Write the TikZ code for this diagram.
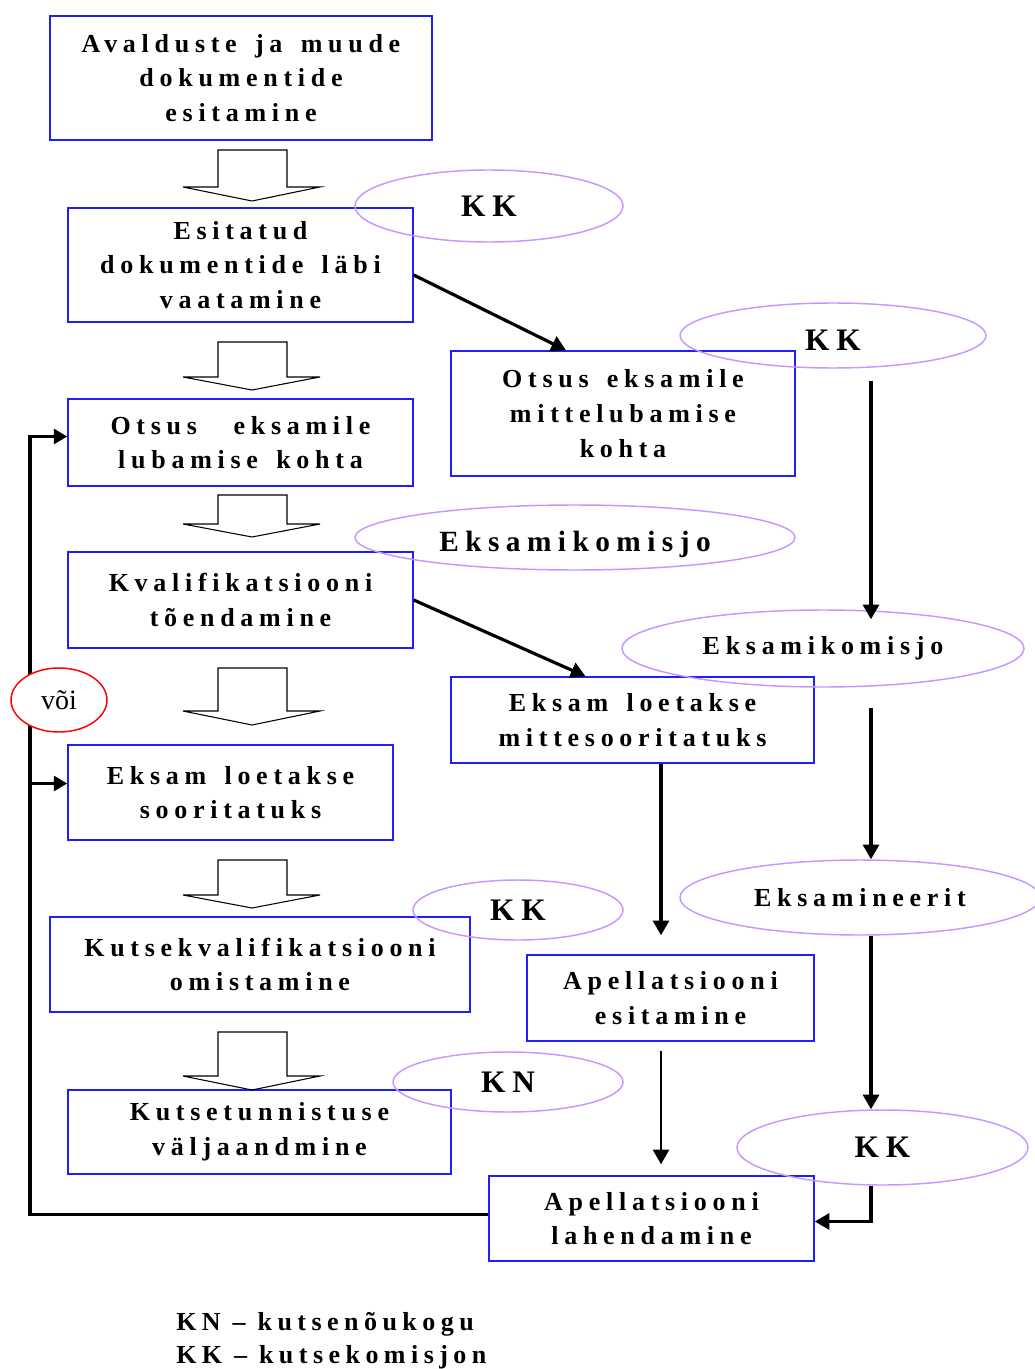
\documentclass[tikz,border=0pt]{standalone}
\usepackage{fontspec}
\setmainfont{Liberation Serif}
\newfontfamily\spaced[LetterSpace=22,WordSpace=1.5]{Liberation Serif}
\newfontfamily\legendfont[LetterSpace=21]{Liberation Serif}
\usetikzlibrary{shapes.geometric,arrows.meta,calc}
\definecolor{boxblue}{RGB}{30,30,255}
\definecolor{ovalviolet}{RGB}{200,150,255}
\begin{document}
\begin{tikzpicture}[x=0.75pt, y=-0.75pt,
    sz/.style 2 args={minimum width=#1*0.75pt, minimum height=#2*0.75pt},
    box/.style={draw=boxblue, line width=1.1pt, align=center, inner sep=0pt,
        font=\spaced\bfseries\fontsize{19.5}{26}\selectfont},
    oval/.style={draw=ovalviolet, line width=1.1pt, ellipse, inner sep=0pt,
        font=\spaced\bfseries\fontsize{19.5}{26}\selectfont},
    big/.style={font=\spaced\bfseries\fontsize{23.5}{28}\selectfont},
    legend/.style={anchor=base west, inner sep=0pt,
        font=\legendfont\bfseries\fontsize{19.5}{26}\selectfont},
    conn/.style={line width=2.4pt, -{Triangle[width=12pt,length=11pt]}},
    fbline/.style={line width=2.8pt, -{Triangle[width=11pt,length=10pt]}},
    hollow/.style={line width=0.8pt}]
    \useasboundingbox (0,0) rectangle (1034,1369);

    % left column
    \node[box, sz={382}{124}] (b1) at (241,78) {Avalduste ja muude\\dokumentide\\esitamine};
    \node[box, sz={345}{114}] (b2) at (240.5,265) {Esitatud\\dokumentide läbi\\vaatamine};
    \node[box, sz={345}{87}] (b3) at (240.5,442.5) {Otsus~ eksamile\\lubamise kohta};
    \node[box, sz={345}{96}] (b4) at (240.5,600) {Kvalifikatsiooni\\tõendamine};
    \node[box, sz={325}{95}] (b5) at (230.5,792.5) {Eksam loetakse\\sooritatuks};
    \node[box, sz={420}{95}] (b6) at (260,964.5) {Kutsekvalifikatsiooni\\omistamine};
    \node[box, sz={383}{84}] (b7) at (259.5,1132) {Kutsetunnistuse\\väljaandmine};

    % right column
    \node[box, sz={344}{125}] (r1) at (623,413.5) {Otsus eksamile\\mittelubamise\\kohta};
    \node[box, sz={363}{86}] (r2) at (632.5,720) {Eksam loetakse\\mittesooritatuks};
    \node[box, sz={287}{86}] (r3) at (670.5,998) {Apellatsiooni\\esitamine};
    \node[box, sz={325}{85}] (r4) at (651.5,1218.5) {Apellatsiooni\\lahendamine};

    \node[oval, big, sz={268}{72}] (e1) at (489,206) {KK};
    \node[oval, big, sz={306}{65}, text height=23pt, text depth=0pt] (e2) at (833,335.5) {KK};
    \node[oval, sz={440}{65}, text height=25.5pt, text depth=4.4pt,
        font=\spaced\bfseries\fontsize{22}{26}\selectfont] (e3) at (575,537.5) {Eksamikomisjo};
    \node[oval, sz={402}{77}] (e4) at (823,648.5) {Eksamikomisjo};
    \node[oval, sz={360}{75}] (e5) at (860,897.5) {Eksamineerit};
    \node[oval, big, sz={210}{60}] (e6) at (518,910) {KK};
    \node[oval, big, sz={230}{60}] (e7) at (508,1082) {KN};
    \node[oval, big, sz={291}{75}] (e8) at (882.5,1147.5) {KK};

    \foreach \t/\b/\p in {150/187/201, 342/377/390, 495/524/537,
                          668/711/725, 860/895/908, 1032/1076/1090}
        \draw[hollow] (218,\t) -- (287,\t) -- (287,\b) -- (320,\b)
            -- (252,\p) -- (183,\b) -- (218,\b) -- cycle;

    \coordinate (rl) at (871,0);
    \coordinate (ml) at (661,0);
    \coordinate (fb) at (30,0);

    \draw[conn] ($(b2.east)+(0,10)$) -- ($(r1.north)+(-57,0)$);
    \draw[conn] (b4.east) -- ($(r2.north)+(-47,0)$);
    \draw[conn] ($(e2.south -| rl)+(0,12)$) -- ($(e4.north -| rl)+(0,10)$);
    \draw[conn] ($(e4.south -| rl)+(0,20)$) -- (e5.north -| rl);
    \draw[conn] (e5.south -| rl) -- (e8.north -| rl);
    \draw[conn] (e8.south -| rl) |- ($(r4.east)+(0,3)$);
    \draw[conn] (r2.south -| ml) -- ($(r3.north -| ml)+(0,-19)$);
    \draw[conn, line width=2pt] ($(r3.south -| ml)+(0,9)$) -- ($(r4.north -| ml)+(0,-11)$);

    % back to the left column
    \draw[fbline] ($(r4.west)+(0,-4)$) -| ($(b3.west -| fb)+(0,-6)$) -- ($(b3.west)+(0,-6)$);
    \draw[fbline] ($(b5.west -| fb)+(0,-9)$) -- ($(b5.west)+(0,-9)$);
    \node[ellipse, draw=red, line width=1.1pt, fill=white, inner sep=0pt, sz={96}{64},
        font=\fontsize{21}{24}\selectfont] (voi) at (59,700) {või\hspace{4pt}};

    \node[legend] (kn) at (176,1330) {KN – kutsenõukogu};
    \node[legend] (kk) at (176,1363) {KK – kutsekomisjon};
\end{tikzpicture}
\end{document}
